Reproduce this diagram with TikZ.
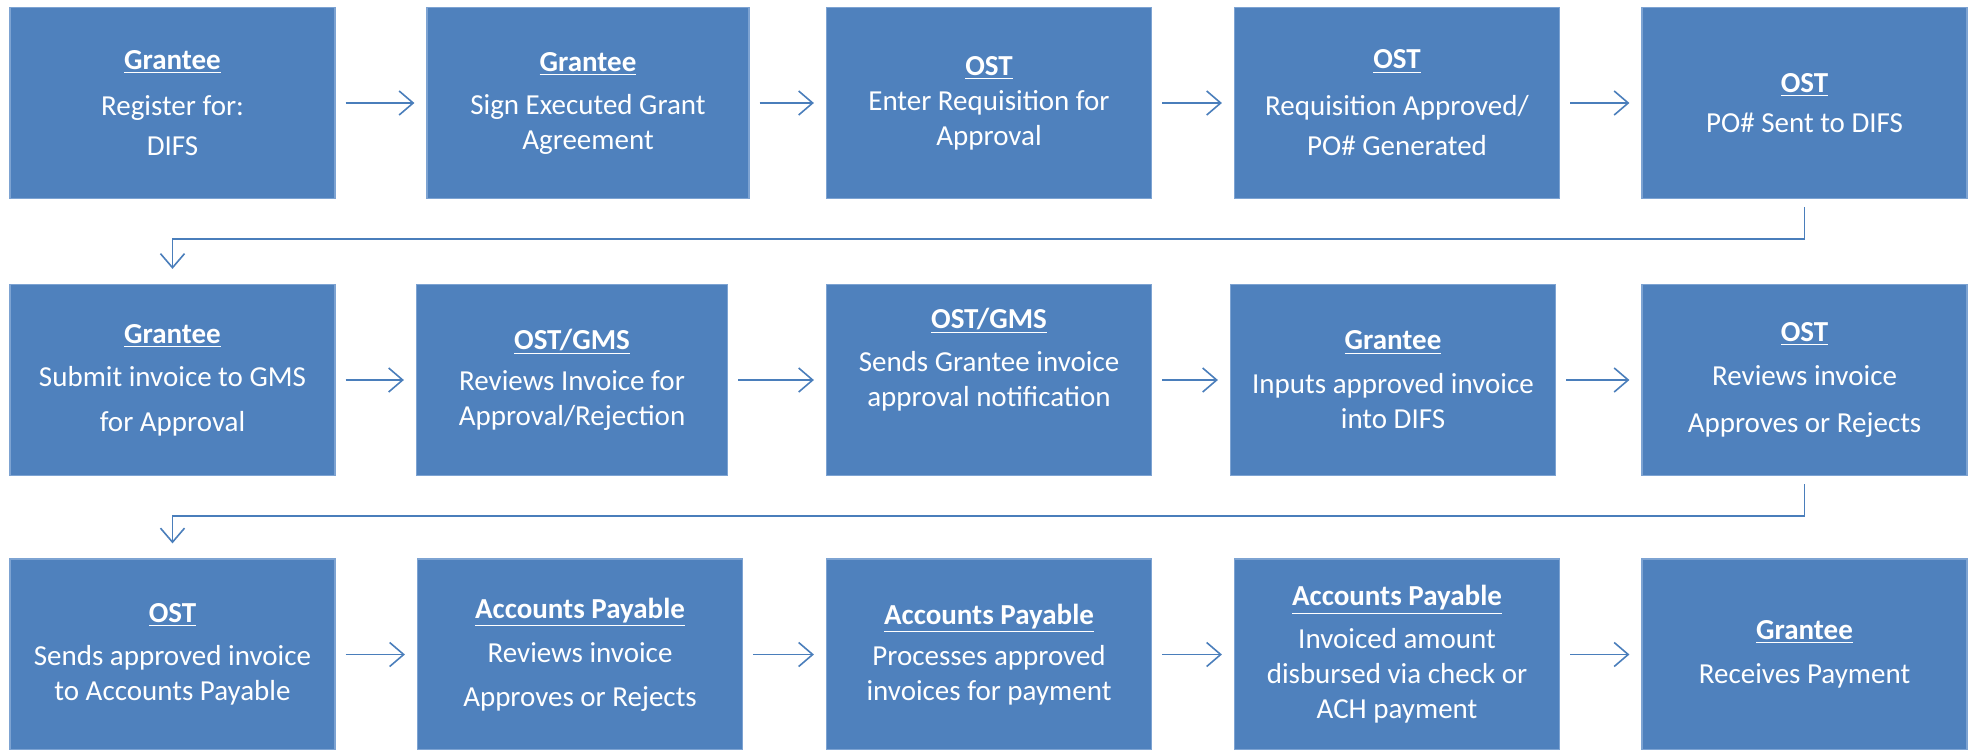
\documentclass[tikz,border=0pt]{standalone}
\usepackage{fontspec}
\setmainfont{Carlito}
\usetikzlibrary{positioning,arrows.meta}
\definecolor{boxblue}{RGB}{79,129,189}
\definecolor{boxedge}{RGB}{125,163,210}
\definecolor{linkblue}{RGB}{74,126,187}
\newcommand{\actor}[1]{\textbf{\underline{#1}}}

\begin{document}
\begin{tikzpicture}[x=0.5pt,y=-0.5pt,
  task/.style={rectangle,fill=boxblue,draw=boxedge,line width=0.6pt,
    minimum width=162.5pt,minimum height=95.5pt,inner sep=0pt,
    text=white,align=center,font=\fontsize{14.5}{17.5}\selectfont},
  flow/.style={draw=linkblue,line width=0.8pt,
    -{Straight Barb[length=7pt,width=12pt]},shorten <=5pt,shorten >=6pt}]
\useasboundingbox (0,0) rectangle (1973,749);

% first row
\node[task] (a1) at (172.5,103) {\actor{Grantee}\\[5.5pt]Register for:\\[2.5pt]DIFS};
\node[task,minimum width=161pt] (a2) at (588,103) {\actor{Grantee}\\[4pt]Sign Executed Grant\\Agreement};
\node[task] (a3) at (989,103) {\actor{OST}\\Enter Requisition for\\Approval};
\node[task] (a4) at (1397,103) {\actor{OST}\\[6pt]Requisition Approved/\\[2.5pt]PO\# Generated};
\node[task] (a5) at (1804.5,103) {\actor{OST}\\[2.5pt]PO\# Sent to DIFS};

% second row
\node[task] (b1) at (172.5,380) {\actor{Grantee}\\[4pt]Submit invoice to GMS\\[5pt]for Approval};
\node[task,minimum width=155.5pt] (b2) at (572,380) {\actor{OST/GMS}\\[3pt]Reviews Invoice for\\Approval/Rejection};
\node[task] (b3) at (989,380) {\actor{OST/GMS}\\[4pt]Sends Grantee invoice\\approval notification\\[5.5pt]\mbox{}};
\node[task] (b4) at (1393,380) {\actor{Grantee}\\[4.5pt]Inputs approved invoice\\into DIFS};
\node[task] (b5) at (1804.5,380) {\actor{OST}\\[4.5pt]Reviews invoice\\[6pt]Approves or Rejects};

% third row
\node[task] (c1) at (172.5,654.5) {\actor{OST}\\[4pt]Sends approved invoice\\to Accounts Payable};
\node[task] (c2) at (580,654.5) {\actor{Accounts Payable}\\[4.5pt]Reviews invoice\\[4.5pt]Approves or Rejects};
\node[task] (c3) at (989,654.5) {\actor{Accounts Payable}\\[3pt]Processes approved\\invoices for payment};
\node[task] (c4) at (1397,654.5) {\actor{Accounts Payable}\\[4pt]Invoiced amount\\disbursed via check or\\ACH payment};
\node[task] (c5) at (1804.5,654.5) {\actor{Grantee}\\[4.5pt]Receives Payment};

\foreach \r in {a,b,c}
  \foreach \i/\j in {1/2,2/3,3/4,4/5}
    \draw[flow] (\r\i) -- (\r\j);

\draw[flow,shorten <=4pt,shorten >=7.5pt] (a5.south) -- ++(0,40) -| (b1.north);
\draw[flow,shorten <=4pt,shorten >=7.5pt] (b5.south) -- ++(0,40) -| (c1.north);
\end{tikzpicture}
\end{document}
